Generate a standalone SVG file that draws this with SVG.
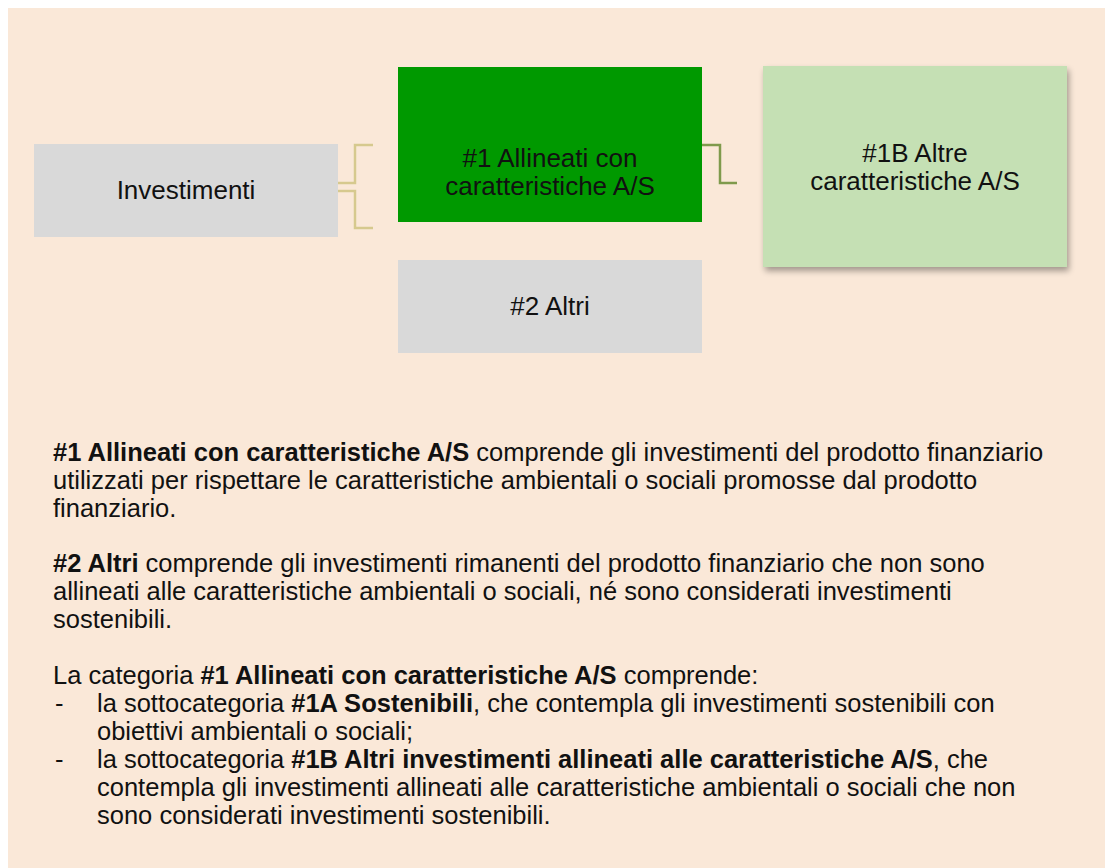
<svg xmlns="http://www.w3.org/2000/svg" width="1108" height="868" viewBox="0 0 1108 868">
<style>
.t{font-family:"Liberation Sans",Arial,sans-serif;font-size:25.5px;fill:#111}
.n{font-family:"Liberation Sans",Arial,sans-serif;font-size:26px;fill:#111;text-anchor:middle}
.b{font-weight:bold}
.con1{fill:none;stroke:#d6c98e;stroke-width:2.5}
.con2{fill:none;stroke:#7f9a4c;stroke-width:2.5}
</style>
<defs>
<filter id="sh" x="-10%" y="-10%" width="125%" height="125%">
<feGaussianBlur in="SourceAlpha" stdDeviation="3"/>
<feOffset dx="2" dy="4" result="o"/>
<feComponentTransfer><feFuncA type="linear" slope="0.35"/></feComponentTransfer>
<feMerge><feMergeNode/><feMergeNode in="SourceGraphic"/></feMerge>
</filter>
</defs>
<rect x="8" y="8" width="1097" height="860" fill="#fae8d8"/>
<g id="connectors">
<path class="con1" d="M338 183 H355 V145 H373"/>
<path class="con1" d="M338 191 H355 V228 H373"/>
<path class="con2" d="M702 145 H720 V183 H737"/>
</g>
<g id="investimenti">
<rect x="34" y="144" width="304" height="93" fill="#d9d9d9"/>
<text class="n" x="186" y="199">Investimenti</text>
</g>
<g id="n1">
<rect x="398" y="67" width="304" height="155" fill="#009900"/>
<text class="n" x="550" y="167">#1 Allineati con</text>
<text class="n" x="550" y="195">caratteristiche A/S</text>
</g>
<g id="n1b">
<rect x="763" y="66" width="304" height="201" fill="#c5e0b4" filter="url(#sh)"/>
<text class="n" x="915" y="162">#1B Altre</text>
<text class="n" x="915" y="190">caratteristiche A/S</text>
</g>
<g id="n2">
<rect x="398" y="260" width="304" height="93" fill="#d9d9d9"/>
<text class="n" x="550" y="315">#2 Altri</text>
</g>
<g id="legend">
<text class="t" x="53" y="461"><tspan class="b">#1 Allineati con caratteristiche A/S</tspan> comprende gli investimenti del prodotto finanziario</text>
<text class="t" x="53" y="489">utilizzati per rispettare le caratteristiche ambientali o sociali promosse dal prodotto</text>
<text class="t" x="53" y="517">finanziario.</text>
<text class="t" x="53" y="572"><tspan class="b">#2 Altri</tspan> comprende gli investimenti rimanenti del prodotto finanziario che non sono</text>
<text class="t" x="53" y="600">allineati alle caratteristiche ambientali o sociali, né sono considerati investimenti</text>
<text class="t" x="53" y="628">sostenibili.</text>
<text class="t" x="53" y="684">La categoria <tspan class="b">#1 Allineati con caratteristiche A/S</tspan> comprende:</text>
<text class="t" x="55" y="712">-</text>
<text class="t" x="97" y="712">la sottocategoria <tspan class="b">#1A Sostenibili</tspan>, che contempla gli investimenti sostenibili con</text>
<text class="t" x="97" y="740">obiettivi ambientali o sociali;</text>
<text class="t" x="55" y="768">-</text>
<text class="t" x="97" y="768">la sottocategoria <tspan class="b">#1B Altri investimenti allineati alle caratteristiche A/S</tspan>, che</text>
<text class="t" x="97" y="796">contempla gli investimenti allineati alle caratteristiche ambientali o sociali che non</text>
<text class="t" x="97" y="824">sono considerati investimenti sostenibili.</text>
</g>
</svg>
